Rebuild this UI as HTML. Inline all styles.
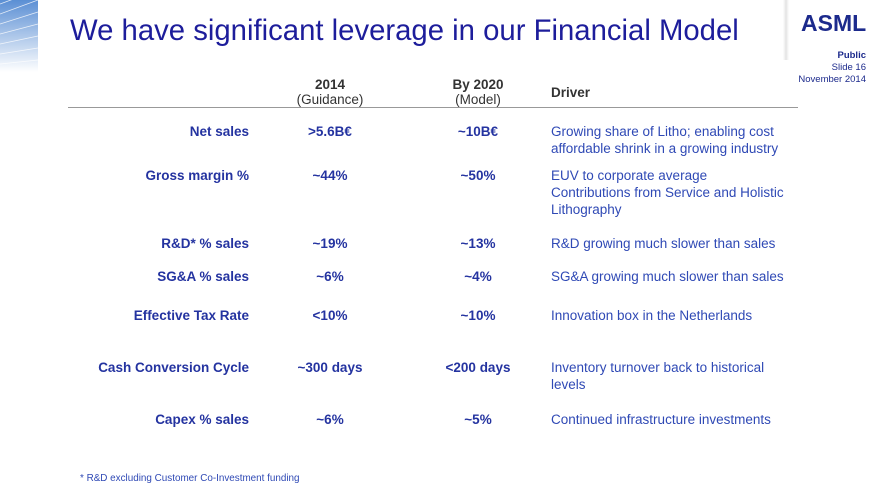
<!DOCTYPE html>
<html><head><meta charset="utf-8"><style>
body{margin:0;width:880px;height:495px;overflow:hidden;background:#fff;font-family:"Liberation Sans",sans-serif;position:relative}
.a{position:absolute;white-space:nowrap}
.lab{right:631px;font-weight:bold;color:#2433a0;font-size:13.5px}
.v1,.v2{width:160px;text-align:center;font-weight:bold;color:#2433a0;font-size:13.5px}
.v1{left:250px}.v2{left:398px}
.drv{left:551px;color:#2f49b5;font-size:13.5px;line-height:17px;white-space:normal;width:240px}
</style></head><body>
<svg class="a" style="left:0;top:0" width="40" height="72">
<defs><linearGradient id="g" x1="0" y1="0" x2="0" y2="1"><stop offset="0" stop-color="#5b8fd4"/><stop offset="1" stop-color="#ffffff"/></linearGradient></defs>
<rect width="38" height="72" fill="url(#g)"/>
<g stroke="#fff" stroke-width="0.8" opacity="0.8"><line x1="0" y1="4" x2="38" y2="-10"/><line x1="0" y1="14" x2="38" y2="0"/><line x1="0" y1="24" x2="38" y2="12"/><line x1="0" y1="34" x2="38" y2="24"/><line x1="0" y1="44" x2="38" y2="36"/><line x1="0" y1="54" x2="38" y2="48"/><line x1="0" y1="64" x2="38" y2="60"/></g>
</svg>
<div class="a" style="left:783px;top:0;width:6px;height:60px;background:linear-gradient(90deg,#fff,#e4e4e4,#fff)"></div>
<div class="a" style="left:70px;top:14px;font-size:29.3px;color:#1d1d9b">We have significant leverage in our Financial Model</div>
<div class="a" style="left:801px;top:10px;font-size:23px;font-weight:bold;color:#1c2a8c">ASML</div>
<div class="a" style="right:14px;top:50px;font-size:9.5px;font-weight:bold;color:#1c2a8c">Public</div>
<div class="a" style="right:14px;top:62px;font-size:9.5px;color:#1c2a8c">Slide 16</div>
<div class="a" style="right:14px;top:74px;font-size:9.5px;color:#1c2a8c">November 2014</div>

<div class="a v1" style="top:77px;color:#333;font-size:13.5px">2014<br><span style="font-weight:normal">(Guidance)</span></div>
<div class="a v2" style="top:77px;color:#333;font-size:13.5px">By 2020<br><span style="font-weight:normal">(Model)</span></div>
<div class="a" style="left:551px;top:85px;font-weight:bold;color:#333;font-size:13.5px">Driver</div>
<div class="a" style="left:68px;top:107px;width:730px;height:1px;background:#999"></div>

<div class="a lab" style="top:124px">Net sales</div>
<div class="a v1" style="top:124px">&gt;5.6B€</div>
<div class="a v2" style="top:124px">~10B€</div>
<div class="a drv" style="top:123px">Growing share of Litho; enabling cost affordable shrink in a growing industry</div>

<div class="a lab" style="top:168px">Gross margin %</div>
<div class="a v1" style="top:168px">~44%</div>
<div class="a v2" style="top:168px">~50%</div>
<div class="a drv" style="top:167px">EUV to corporate average<br>Contributions from Service and Holistic Lithography</div>

<div class="a lab" style="top:236px">R&amp;D* % sales</div>
<div class="a v1" style="top:236px">~19%</div>
<div class="a v2" style="top:236px">~13%</div>
<div class="a drv" style="top:235px;width:300px">R&amp;D growing much slower than sales</div>

<div class="a lab" style="top:269px">SG&amp;A % sales</div>
<div class="a v1" style="top:269px">~6%</div>
<div class="a v2" style="top:269px">~4%</div>
<div class="a drv" style="top:268px;width:300px">SG&amp;A growing much slower than sales</div>

<div class="a lab" style="top:308px">Effective Tax Rate</div>
<div class="a v1" style="top:308px">&lt;10%</div>
<div class="a v2" style="top:308px">~10%</div>
<div class="a drv" style="top:307px">Innovation box in the Netherlands</div>

<div class="a lab" style="top:360px">Cash Conversion Cycle</div>
<div class="a v1" style="top:360px">~300 days</div>
<div class="a v2" style="top:360px">&lt;200 days</div>
<div class="a drv" style="top:359px">Inventory turnover back to historical levels</div>

<div class="a lab" style="top:412px">Capex % sales</div>
<div class="a v1" style="top:412px">~6%</div>
<div class="a v2" style="top:412px">~5%</div>
<div class="a drv" style="top:411px;width:300px">Continued infrastructure investments</div>

<div class="a" style="left:80px;top:473px;font-size:9.9px;color:#2f49b5">* R&amp;D excluding Customer Co-Investment funding</div>
</body></html>
